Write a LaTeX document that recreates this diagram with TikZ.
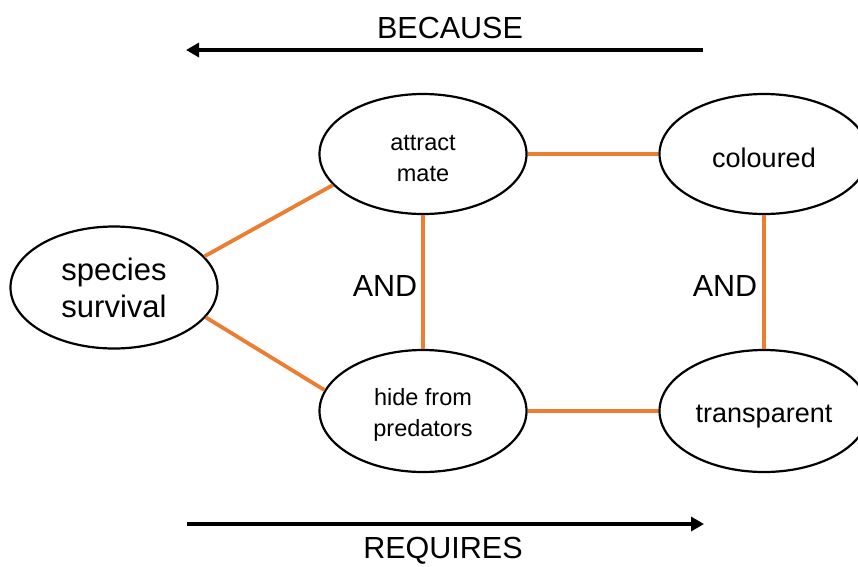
\documentclass[tikz,border=0pt]{standalone}
\usepackage{fontspec}
\setmainfont{Liberation Sans}
\usetikzlibrary{shapes.geometric,arrows.meta}
\definecolor{linkorange}{HTML}{ED7D31}
\begin{document}
\begin{tikzpicture}[x=1pt,y=-1pt,
  bubble/.style={ellipse,draw=black,line width=2.2pt,inner sep=0pt,
    minimum width=207pt,minimum height=120pt,align=center},
  small/.style={font=\fontsize{23.5}{31}\selectfont,text height=56pt},
  medium/.style={font=\fontsize{27}{32}\selectfont,text height=28pt},
  large/.style={font=\fontsize{31}{37}\selectfont},
  link/.style={draw=linkorange,line width=3.8pt},
  flow/.style={draw=black,line width=4pt,-{Triangle[length=13pt,width=14pt]}},
  caption/.style={font=\fontsize{30.5}{34}\selectfont}]
  \useasboundingbox (0,0) rectangle (858,566);

  % goals and traits
  \node[bubble,large,minimum height=122pt] (sp) at (114,287.5) {species\\survival};
  \node[bubble,small] (am) at (423,154) {attract\\mate};
  \node[bubble,small,minimum height=122pt] (hp) at (423,411) {hide from\\predators};
  \node[bubble,medium,minimum width=209pt] (co) at (764,154) {coloured};
  \node[bubble,medium,minimum width=209pt,minimum height=122pt] (tr) at (764,411) {transparent};

  % links between them
  \draw[link] (sp.19) -- (am.199);
  \draw[link] (sp.-18) -- (hp.168);
  \draw[link] (am.east) -- (co.west |- am.east);
  \draw[link] (hp.east |- tr.west) -- (tr.west);
  \draw[link] (am.south) -- (hp.north);
  \draw[link] (co.south) -- (tr.north);

  \node[caption] (and1) at (385,286) {AND};
  \node[caption] (and2) at (725,286) {AND};

  % reading directions
  \coordinate (bR) at (703,50);
  \coordinate (bL) at (186,50);
  \coordinate (rL) at (187,524);
  \coordinate (rR) at (704,524);
  \draw[flow] (bR) -- (bL);
  \draw[flow] (rL) -- (rR);
  \node[caption] (because) at (450,28) {BECAUSE};
  \node[caption] (requires) at (443,551) {REQUIRES};
\end{tikzpicture}
\end{document}
